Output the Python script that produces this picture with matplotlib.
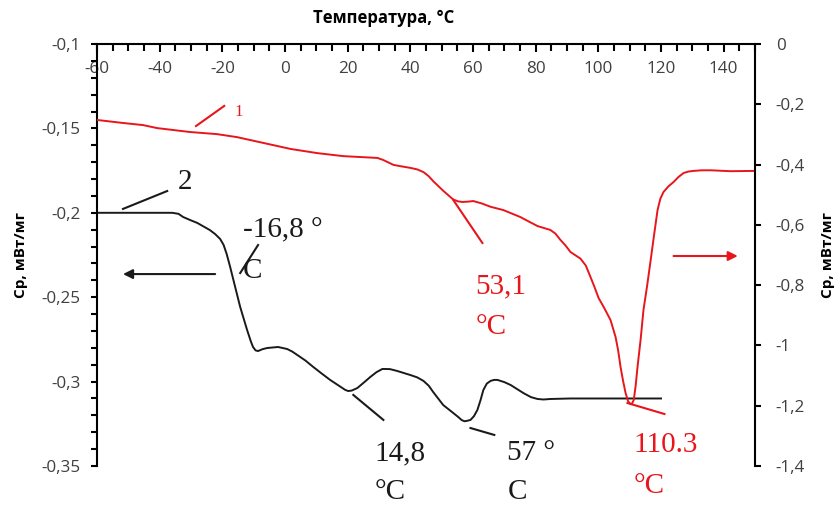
import matplotlib
matplotlib.use("Agg")
import matplotlib.pyplot as plt
from matplotlib.ticker import FixedLocator, MultipleLocator, FuncFormatter

# Curve 2 (left axis), Cp in mW/mg vs temperature in °C
temp_2 = [-60, -36, -34, -32.5, -30, -28, -24, -22.3, -20.7, -19.6, -18.6,
          -17.5, -15.9, -14.3, -12.1, -10.9, -10.2, -9.4, -8.6, -7.2, -5.7,
          -2.2, 0.7, 2.3, 3.9, 6.5, 9.0, 11.7, 14.4, 17.5, 19.2, 20.2, 21.3,
          23.1, 25.2, 27.2, 29.2, 31.1, 33.5, 35.8, 40.0, 42.2, 44.2, 45.9,
          47.3, 50.5, 53.7, 55.3, 56.4, 57.3, 58.2, 59.2, 60.3, 61.4, 62.4,
          63.3, 64.4, 65.6, 66.7, 67.8, 70.0, 72.0, 76.1, 78.5, 80.6, 82.5,
          84.7, 91.1, 120]
cp_2 = [-0.2, -0.2, -0.2006, -0.2025, -0.2045, -0.206, -0.2102, -0.2126,
        -0.2155, -0.219, -0.2245, -0.2321, -0.244, -0.2558, -0.2694, -0.2762,
        -0.2795, -0.2815, -0.2819, -0.2808, -0.2801, -0.2795, -0.2807,
        -0.2822, -0.2842, -0.2875, -0.2913, -0.2952, -0.299, -0.3028,
        -0.3049, -0.3056, -0.3053, -0.3038, -0.3005, -0.2973, -0.2944,
        -0.2925, -0.2926, -0.2937, -0.2961, -0.2975, -0.2996, -0.3025,
        -0.3062, -0.3139, -0.3186, -0.321, -0.3228, -0.3235, -0.3232,
        -0.3227, -0.3205, -0.3168, -0.311, -0.305, -0.3012, -0.2996, -0.299,
        -0.299, -0.3003, -0.302, -0.3068, -0.3092, -0.3103, -0.3106, -0.3103,
        -0.31, -0.31]

# Curve 1 (right axis)
temp_1 = [-60, -51.7, -45.3, -40.8, -30.3, -21.7, -15.3, -7.0, 1.7, 10.3, 18.6,
          29.5, 31.4, 33.0, 34.6, 37.2, 40.0, 42.2, 44.2, 45.8, 47.3, 50.5,
          53.7, 55.2, 56.6, 58.4, 60.1, 62.8, 65.6, 69.7, 75.1, 78.0, 80.6,
          82.8, 84.7, 86.3, 87.9, 89.5, 91.1, 94.3, 96.0, 97.5, 98.8, 100.1,
          102.0, 103.9, 105.5, 106.3, 107.1, 107.9, 108.7, 109.5, 110.3, 110.8,
          111.3, 111.9, 112.5, 113.5, 114.4, 115.6, 116.7, 117.8, 118.9, 119.8,
          120.8, 122.4, 124.0, 125.6, 127.2, 128.8, 130.4, 133.0, 136.0, 142.2,
          150]
cp_1 = [-0.252, -0.262, -0.269, -0.279, -0.292, -0.299, -0.309, -0.328, -0.348,
        -0.362, -0.372, -0.378, -0.385, -0.393, -0.401, -0.406, -0.411,
        -0.416, -0.425, -0.438, -0.455, -0.487, -0.516, -0.522, -0.524,
        -0.523, -0.521, -0.529, -0.54, -0.551, -0.574, -0.59, -0.604, -0.611,
        -0.617, -0.629, -0.65, -0.668, -0.69, -0.712, -0.735, -0.773, -0.807,
        -0.843, -0.878, -0.916, -0.972, -1.015, -1.072, -1.118, -1.158,
        -1.185, -1.195, -1.192, -1.181, -1.135, -1.072, -0.98, -0.883, -0.8,
        -0.717, -0.633, -0.551, -0.513, -0.491, -0.472, -0.458, -0.441,
        -0.428, -0.423, -0.421, -0.419, -0.419, -0.422, -0.421]

x_ticks = [-60, -40, -20, 0, 20, 40, 60, 80, 100, 120, 140]
left_ticks = [-0.35, -0.3, -0.25, -0.2, -0.15, -0.1]
right_ticks = [-1.4, -1.2, -1.0, -0.8, -0.6, -0.4, -0.2, 0.0]

SANS = ['Open Sans', 'DejaVu Sans']
SERIF = ['Liberation Serif', 'DejaVu Serif']
RED = '#e8151b'
INK = '#1a1a1a'
TICK_GREY = '#404040'
TICK_SIZE = 12.3

def comma(v, _pos=None):
    s = ('%g' % round(v, 3)).replace('.', ',')
    return '0' if s == '-0' else s

fig = plt.figure(figsize=(8.4, 5.08), dpi=100)
ax = fig.add_axes([97 / 840, 1 - 466 / 508, 658 / 840, 422 / 508])
ax2 = ax.twinx()

ax.plot(temp_2, cp_2, color=INK, lw=1.4, solid_joinstyle='round')
ax2.plot(temp_1, cp_1, color=RED, lw=1.4, solid_joinstyle='round')

ax.set_xlim(-60, 150)
ax.set_ylim(-0.35, -0.1)
ax2.set_ylim(-1.4, 0)

# spines: left + top on host, right on twin
for s in ('bottom', 'right'):
    ax.spines[s].set_visible(False)
for s in ('bottom', 'top', 'left'):
    ax2.spines[s].set_visible(False)
for s in ('left', 'top'):
    ax.spines[s].set_linewidth(1.5)
ax2.spines['right'].set_linewidth(1.5)

# temperature axis on top, ticks pointing down, labels inside
ax.xaxis.tick_top()
ax.xaxis.set_major_locator(FixedLocator(x_ticks))
ax.xaxis.set_minor_locator(MultipleLocator(5))
ax.xaxis.set_major_formatter(FuncFormatter(lambda v, p: '%d' % v))
ax.tick_params(axis='x', which='both', direction='in', width=1.5,
               top=True, bottom=False, labeltop=True, labelbottom=False,
               pad=-24, labelsize=TICK_SIZE, labelcolor=TICK_GREY)
ax.tick_params(axis='x', which='major', length=6)
ax.tick_params(axis='x', which='minor', length=5)

ax.yaxis.set_major_locator(FixedLocator(left_ticks))
ax.yaxis.set_minor_locator(MultipleLocator(0.01))
ax.yaxis.set_major_formatter(FuncFormatter(comma))
ax.tick_params(axis='y', which='both', direction='out', width=1.5, length=4,
               pad=8, labelsize=TICK_SIZE, labelcolor=TICK_GREY)

ax2.yaxis.set_major_locator(FixedLocator(right_ticks))
ax2.yaxis.set_major_formatter(FuncFormatter(comma))
ax2.tick_params(axis='y', which='major', direction='out', width=1.5, length=4,
                pad=11, labelsize=TICK_SIZE, labelcolor=TICK_GREY)
ax2.tick_params(axis='x', which='both', top=False, bottom=False,
                labeltop=False, labelbottom=False)

for lab in ax.get_xticklabels() + ax.get_yticklabels() + ax2.get_yticklabels():
    lab.set_family(SANS)

fig.text(384 / 840, 1 - 18 / 508, 'Температура, °C', ha='center', va='center',
         fontsize=12, fontweight='bold', family=SANS)
fig.text(21 / 840, 1 - 255 / 508, 'Ср, мВт/мг', rotation=90, ha='center',
         va='center', fontsize=11, fontweight='bold', family=SANS)
fig.text(828 / 840, 1 - 255 / 508, 'Ср, мВт/мг', rotation=90, ha='center',
         va='center', fontsize=11, fontweight='bold', family=SANS)

# leader lines and labels (placed in host-axis data units)
def leader(x0, y0, x1, y1, color):
    ax.plot([x0, x1], [y0, y1], color=color, lw=1.5, clip_on=False, zorder=5)

def label(x, y, s, color, size=21, spacing=1.75):
    ax.text(x, y, s, color=color, fontsize=size, family=SERIF, ha='left',
            va='center', linespacing=spacing, clip_on=False, zorder=6)

leader(-28.4, -0.1486, -19.4, -0.1367, RED)
label(-16.2, -0.1403, '1', RED, size=12)

leader(-51.7, -0.1977, -37.6, -0.1871, INK)
label(-34.1, -0.1817, '2', INK)

label(-13.4, -0.2225, '-16,8 °\nC', INK)
leader(-14.3, -0.2357, -8.6, -0.2191, INK)

label(60.8, -0.2555, '53,1\n°C', RED)
leader(53.7, -0.1924, 63.0, -0.2179, RED)

label(28.5, -0.3538, '14,8\n°C', INK, spacing=1.65)
leader(21.8, -0.3079, 31.4, -0.3227, INK)

label(71.0, -0.3538, '57 °\nC', INK, spacing=1.65)
leader(59.2, -0.3275, 66.8, -0.3316, INK)

label(111.2, -0.3495, '110.3\n°C', RED)
leader(109.3, -0.3127, 121.1, -0.3192, RED)

# axis-pointing arrows
ax.annotate('', xy=(-51.7, -0.2363), xytext=(-22.3, -0.2363),
            arrowprops=dict(arrowstyle='-|>', color=INK, lw=1.5,
                            mutation_scale=14, shrinkA=0, shrinkB=0),
            annotation_clip=False)
ax.annotate('', xy=(144.5, -0.2256), xytext=(124.0, -0.2256),
            arrowprops=dict(arrowstyle='-|>', color=RED, lw=1.5,
                            mutation_scale=14, shrinkA=0, shrinkB=0),
            annotation_clip=False)

fig.savefig('out.png', dpi=100, facecolor='white')
